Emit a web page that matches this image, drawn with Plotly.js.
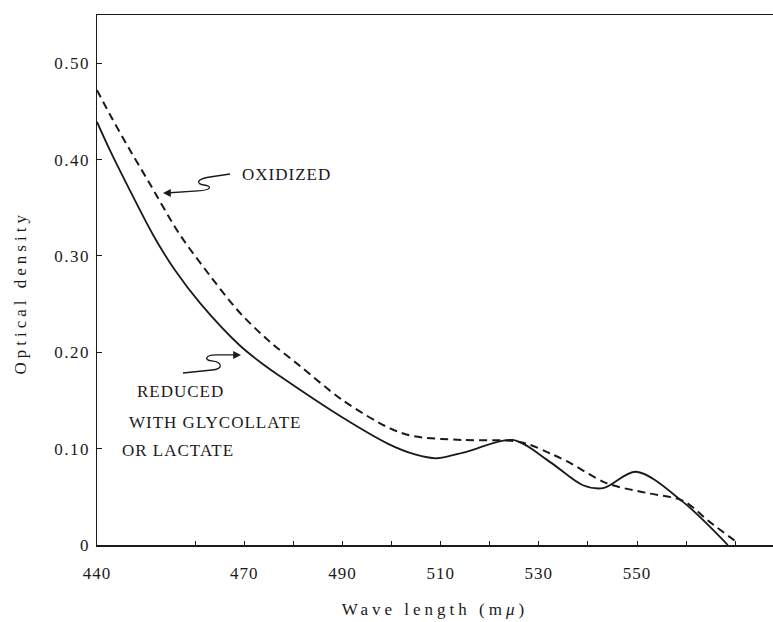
<!DOCTYPE html>
<html>
<head>
<meta charset="utf-8">
<script src="https://cdn.plot.ly/plotly-3.0.1.min.js"></script>
<style>
  html, body { margin: 0; padding: 0; background: #fff; }
  .xtick text { letter-spacing: 1px; }
  .ytick text { letter-spacing: 1.5px; }
  .xtitle, .ytitle { letter-spacing: 4px; }
  .annotation-text { letter-spacing: 1px; }
  .annotation[data-index="0"] .annotation-text { letter-spacing: 4px; }
</style>
</head>
<body>
<div id="chart" style="width:773px;height:622px;"></div>
<script>
// Oxidized (dashed) curve
const wavelengthOxidized = [440, 442.6, 446.7, 450.4, 456.5, 461.0, 469.1, 475.2, 481.3, 490.1, 499.7, 504.4, 514.5, 524.7, 528.2, 532.3, 535.7, 543.9, 552.0, 559.3, 564.8, 570.3];
const densityOxidized    = [0.472, 0.447, 0.410, 0.378, 0.325, 0.293, 0.241, 0.211, 0.186, 0.150, 0.121, 0.113, 0.109, 0.108, 0.104, 0.095, 0.087, 0.064, 0.054, 0.046, 0.024, 0.003];

// Reduced with glycollate or lactate (solid) curve
const wavelengthReduced = [440, 442.6, 446.7, 451.4, 455.9, 461.0, 469.1, 473.2, 477.9, 490.1, 499.3, 504.8, 509.2, 515.4, 524.7, 532.3, 539.0, 543.1, 549.8, 559.3, 568.5];
const densityReduced    = [0.439, 0.410, 0.368, 0.322, 0.285, 0.251, 0.207, 0.190, 0.173, 0.132, 0.105, 0.094, 0.090, 0.097, 0.109, 0.086, 0.062, 0.059, 0.076, 0.045, 0.000];

// Axis ticks
const xTickValues = [440, 460, 470, 480, 490, 500, 510, 520, 530, 540, 550, 560, 570];
const xTickLabels = ['440', '', '470', '', '490', '', '510', '', '530', '', '550', '', ''];
const yTickValues = [0, 0.1, 0.2, 0.3, 0.4, 0.5];
const yTickLabels = ['0', '0.10', '0.20', '0.30', '0.40', '0.50'];

// Label texts
const yTitle = 'Optical density';
const xTitle = 'Wave length (m<i>μ</i>)';
const labelOxidized = 'OXIDIZED';
const labelReduced = ['REDUCED', 'WITH GLYCOLLATE', 'OR LACTATE'];

// pixel -> data helpers for decorations only
function dx(px) { return 440 + (px - 97) / 4.91; }
function dy(py) { return (545 - py) / 963.6; }
function P(px, py) { return dx(px).toFixed(3) + ',' + dy(py).toFixed(4); }

const serif = 'Liberation Serif';
const ink = '#1a1a1a';

const traces = [
  {
    x: wavelengthOxidized, y: densityOxidized, type: 'scatter', mode: 'lines',
    line: { color: ink, width: 2, dash: '8px,5px', shape: 'spline', smoothing: 0.9 },
    hoverinfo: 'skip', showlegend: false
  },
  {
    x: wavelengthReduced, y: densityReduced, type: 'scatter', mode: 'lines',
    line: { color: ink, width: 1.8, shape: 'spline', smoothing: 0.9 },
    hoverinfo: 'skip', showlegend: false
  }
];

const squiggleOx = 'M ' + P(230,174) + ' L ' + P(210,177) + ' C ' + P(196,179) + ' ' + P(196,184) + ' ' + P(204,185) +
  ' C ' + P(212,186) + ' ' + P(212,190) + ' ' + P(198,191) + ' L ' + P(166,193);
const squiggleRed = 'M ' + P(183,373) + ' L ' + P(212,370) + ' C ' + P(224,369) + ' ' + P(222,362) + ' ' + P(212,361) +
  ' C ' + P(203,360) + ' ' + P(206,355) + ' ' + P(216,355) + ' L ' + P(237,355);

const annFont = { family: serif, size: 17, color: ink };

const layout = {
  width: 773, height: 622,
  margin: { l: 97, r: 0, t: 15, b: 77 },
  paper_bgcolor: '#ffffff', plot_bgcolor: '#ffffff',
  font: { family: serif, color: ink },
  xaxis: {
    range: [440, 577.7], showgrid: false, zeroline: false,
    showline: true, linecolor: ink, linewidth: 1.5, mirror: true,
    tickmode: 'array', tickvals: xTickValues, ticktext: xTickLabels,
    ticks: 'inside', ticklen: 4, tickcolor: ink, tickwidth: 1,
    ticklabelstandoff: 12,
    tickfont: { family: serif, size: 17, color: ink },
    title: { text: xTitle, font: { family: serif, size: 17, color: ink }, standoff: 21 },
    automargin: false
  },
  yaxis: {
    range: [0, 0.55], showgrid: false, zeroline: false,
    showline: true, linecolor: ink, linewidth: 1.5, mirror: false,
    tickmode: 'array', tickvals: yTickValues, ticktext: yTickLabels,
    ticks: 'inside', ticklen: 5, tickcolor: ink, tickwidth: 1,
    ticklabelstandoff: 2,
    tickfont: { family: serif, size: 17, color: ink },
    automargin: false
  },
  shapes: [
    { type: 'path', xref: 'x', yref: 'y', path: squiggleOx, line: { color: ink, width: 1.3 } },
    { type: 'path', xref: 'x', yref: 'y', path: squiggleRed, line: { color: ink, width: 1.3 } }
  ],
  annotations: [
    { x: (20 - 97) / 676, y: (545 - 293) / 530, xref: 'paper', yref: 'paper', text: yTitle, textangle: -90, showarrow: false, xanchor: 'center', yanchor: 'middle', font: annFont },
    { x: dx(240), y: dy(175), xref: 'x', yref: 'y', text: labelOxidized, showarrow: false, xanchor: 'left', yanchor: 'middle', font: annFont },
    { x: dx(135), y: dy(392), xref: 'x', yref: 'y', text: labelReduced[0], showarrow: false, xanchor: 'left', yanchor: 'middle', font: annFont },
    { x: dx(127), y: dy(422), xref: 'x', yref: 'y', text: labelReduced[1], showarrow: false, xanchor: 'left', yanchor: 'middle', font: annFont },
    { x: dx(120), y: dy(450), xref: 'x', yref: 'y', text: labelReduced[2], showarrow: false, xanchor: 'left', yanchor: 'middle', font: annFont },
    { x: dx(163), y: dy(193), xref: 'x', yref: 'y', text: '', showarrow: true, ax: 8, ay: 0, arrowhead: 2, arrowsize: 1.2, arrowwidth: 1.3, arrowcolor: ink },
    { x: dx(241), y: dy(355), xref: 'x', yref: 'y', text: '', showarrow: true, ax: -8, ay: 0, arrowhead: 2, arrowsize: 1.2, arrowwidth: 1.3, arrowcolor: ink }
  ]
};

Plotly.newPlot('chart', traces, layout, { staticPlot: true, displayModeBar: false });
</script>
</body>
</html>
